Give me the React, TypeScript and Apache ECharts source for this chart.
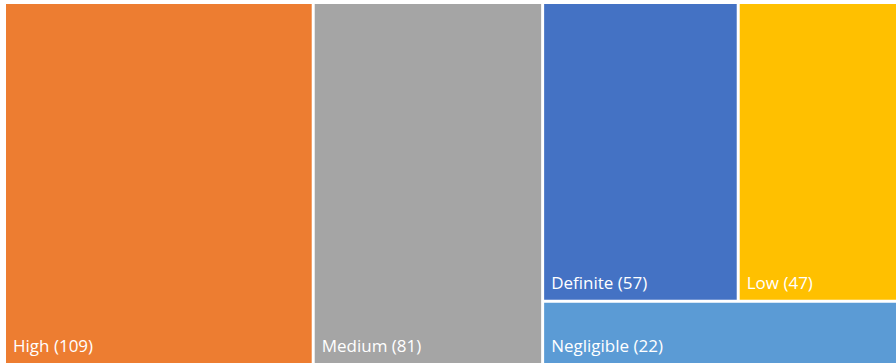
import React, { useEffect, useRef } from "react";
import * as echarts from "echarts";

const categories = ["High", "Medium", "Definite", "Low", "Negligible"];
const values = [109, 81, 57, 47, 22];
const colors = ["#ED7D31", "#A5A5A5", "#4472C4", "#FFC000", "#5B9BD5"];

export default function App() {
  const ref = useRef<HTMLDivElement>(null);
  useEffect(() => {
    document.body.style.margin = "0";
    const chart = echarts.init(ref.current!, undefined, { renderer: "svg" });
    const data = categories.map((name, i) => ({
      name,
      value: values[i],
      itemStyle: { color: colors[i] },
    }));
    chart.setOption({
      animation: false,
      series: [
        {
          type: "treemap",
          left: 6,
          top: 4,
          right: -2,
          bottom: 0,
          roam: false,
          nodeClick: false,
          squareRatio: 1,
          breadcrumb: { show: false },
          sort: "desc",
          levels: [
            { itemStyle: { gapWidth: 3, borderWidth: 0, borderColor: "#fff" } },
            { itemStyle: { borderWidth: 0 } },
          ],
          label: {
            show: true,
            position: "insideBottomLeft",
            distance: 7,
            offset: [0, -2],
            padding: 0,
            formatter: "{b} ({c})",
            color: "#fff",
            fontSize: 17,
            fontFamily: "Open Sans",
          },
          data,
        },
      ],
    });
    return () => chart.dispose();
  }, []);
  return <div ref={ref} style={{ width: 896, height: 363 }} />;
}
